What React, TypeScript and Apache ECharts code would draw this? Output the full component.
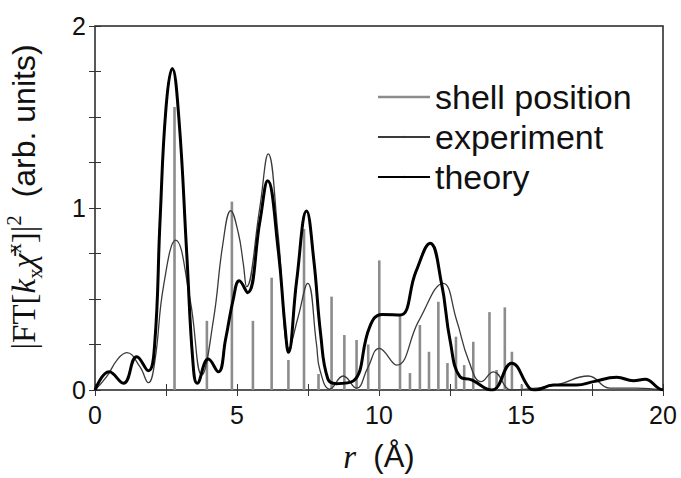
import React, { useEffect, useRef } from "react";
import * as echarts from "echarts";

// Shell positions (r in Å) and their heights
const shellR = [2.80, 3.94, 4.82, 5.56, 6.22, 6.81, 7.36, 7.87, 8.33, 8.78, 9.21, 9.62, 10.01, 10.74, 11.09, 11.44, 11.76, 12.09, 12.41, 12.71, 13.00, 13.32, 13.89, 14.14, 14.43, 14.68, 15.03];
const shellH = [1.555, 0.38, 1.035, 0.38, 0.617, 0.165, 0.885, 0.088, 0.513, 0.302, 0.275, 0.25, 0.712, 0.41, 0.093, 0.357, 0.21, 0.485, 0.148, 0.293, 0.137, 0.265, 0.428, 0.11, 0.454, 0.21, 0.03];

// Experiment curve
const expR = [0, 0.41, 0.8, 1.12, 1.58, 1.88, 2.1, 2.41, 2.84, 3.35, 3.76, 4.17, 4.5, 4.78, 5.05, 5.22, 5.34, 5.8, 6.1, 6.45, 6.84, 7.15, 7.49, 7.8, 7.92, 8.27, 8.74, 9.21, 9.6, 10.01, 10.62, 11.4, 12.26, 12.73, 13.15, 13.6, 14.03, 14.67, 15.5, 16.3, 17.37, 18.13, 19.07, 20];
const expV = [0, 0.073, 0.17, 0.205, 0.128, 0.04, 0.15, 0.568, 0.824, 0.495, 0.082, 0.385, 0.8, 0.985, 0.86, 0.696, 0.568, 1.0, 1.297, 0.85, 0.229, 0.4, 0.586, 0.25, 0.11, 0.005, 0.077, 0.01, 0.12, 0.229, 0.137, 0.38, 0.586, 0.385, 0.165, 0.046, 0.10, 0.0, 0.01, 0.03, 0.077, 0.01, 0.01, 0];

// Theory curve
const thR = [0, 0.5, 1.0, 1.47, 1.88, 2.1, 2.29, 2.5, 2.72, 2.95, 3.23, 3.45, 3.6, 3.99, 4.34, 4.6, 4.87, 5.08, 5.37, 5.81, 6.08, 6.45, 6.69, 6.81, 7.1, 7.45, 7.7, 7.95, 8.2, 8.5, 9.1, 9.68, 10.1, 10.74, 11.3, 11.8, 12.2, 12.5, 12.85, 13.26, 13.97, 14.67, 15.3, 15.49, 16.14, 16.96, 17.55, 18.37, 18.96, 19.37, 19.84, 20];
const thV = [0, 0.10, 0.037, 0.183, 0.106, 0.25, 0.93, 1.55, 1.767, 1.5, 0.75, 0.15, 0.037, 0.17, 0.10, 0.28, 0.5, 0.60, 0.535, 0.93, 1.15, 0.77, 0.35, 0.207, 0.6, 0.983, 0.72, 0.3, 0.06, 0.035, 0.05, 0.35, 0.415, 0.412, 0.65, 0.806, 0.587, 0.275, 0.073, 0.055, 0.0, 0.147, 0.01, 0.0, 0.027, 0.027, 0.046, 0.07, 0.051, 0.059, 0.01, 0];

const SANS = "'Liberation Sans', Arial, Helvetica, sans-serif";
const SERIF = "'Liberation Serif', 'DejaVu Serif', 'Times New Roman', serif";

export default function App() {
  const ref = useRef<HTMLDivElement>(null);
  useEffect(() => {
    if (!ref.current) return;
    const chart = echarts.init(ref.current, null, { renderer: "svg" });
    const shellData = shellR.map((r, i) => [r, shellH[i]]);
    const expData = expR.map((r, i) => [r, expV[i]]);
    const thData = thR.map((r, i) => [r, thV[i]]);
    const tickCommon = { inside: true, length: 6, lineStyle: { color: "#333", width: 1 } };
    chart.setOption({
      animation: false,
      backgroundColor: "#fff",
      grid: {
        left: 95, right: 18, top: 26, bottom: 88,
        outerBoundsMode: "none",
        containLabel: false,
        show: true, borderColor: "#222", borderWidth: 1.5, backgroundColor: "transparent",
      },
      legend: {
        orient: "vertical",
        left: 372,
        top: 75,
        itemWidth: 52,
        itemHeight: 2.5,
        itemGap: 6,
        textStyle: { fontSize: 34, color: "#111", fontFamily: SANS, lineHeight: 34 },
        data: [
          { name: "shell position", icon: "rect", itemStyle: { color: "#8c8c8c" } },
          { name: "experiment" },
          { name: "theory" },
        ],
      },
      xAxis: [
        {
          type: "value", min: 0, max: 20, interval: 5,
          axisLine: { show: false }, splitLine: { show: false },
          axisTick: tickCommon,
          minorTick: { show: true, splitNumber: 2, length: 6, lineStyle: { color: "#333", width: 1 } },
          axisLabel: { fontSize: 25, color: "#111", fontFamily: SANS, margin: 12 },
          name: "{i|r}{a|  (Å)}",
          nameLocation: "middle",
          nameGap: 50,
          nameTextStyle: {
            rich: {
              i: { fontFamily: SERIF, fontStyle: "italic", fontSize: 33, color: "#111" },
              a: { fontFamily: SANS, fontSize: 31, color: "#111" },
            },
          },
        },
        {
          type: "value", position: "top", min: 0, max: 20, interval: 5,
          axisLine: { show: false }, splitLine: { show: false },
          axisTick: tickCommon,
          minorTick: { show: true, splitNumber: 2, length: 6, lineStyle: { color: "#333", width: 1 } },
          axisLabel: { show: false },
        },
      ],
      yAxis: [
        {
          type: "value", min: 0, max: 2, interval: 1,
          axisLine: { show: false }, splitLine: { show: false },
          axisTick: tickCommon,
          minorTick: { show: true, splitNumber: 4, length: 6, lineStyle: { color: "#333", width: 1 } },
          axisLabel: { fontSize: 25, color: "#111", fontFamily: SANS, margin: 9 },
          name: "{s||FT[}{i|k}{sub|x}{i|χ̄}{sup|x}{s|]|}{sup|2}{a|  (arb. units)}",
          nameLocation: "middle",
          nameGap: 50,
          nameRotate: 90,
          nameTextStyle: {
            padding: [0, 0, 0, 22],
            rich: {
              s: { fontFamily: SERIF, fontSize: 33, lineHeight: 42, color: "#111" },
              i: { fontFamily: SERIF, fontStyle: "italic", fontSize: 33, lineHeight: 42, color: "#111" },
              sub: { fontFamily: SERIF, fontSize: 21, lineHeight: 20, verticalAlign: "bottom", color: "#111" },
              sup: { fontFamily: SERIF, fontSize: 21, lineHeight: 20, verticalAlign: "top", color: "#111" },
              a: { fontFamily: SANS, fontSize: 32, lineHeight: 42, color: "#111" },
            },
          },
        },
        {
          type: "value", position: "right", min: 0, max: 2, interval: 1,
          axisLine: { show: false }, splitLine: { show: false },
          axisTick: tickCommon,
          minorTick: { show: true, splitNumber: 4, length: 6, lineStyle: { color: "#333", width: 1 } },
          axisLabel: { show: false },
        },
      ],
      series: [
        {
          name: "shell position",
          type: "custom",
          xAxisIndex: 0,
          yAxisIndex: 0,
          itemStyle: { color: "#8c8c8c" },
          encode: { x: 0, y: 1 },
          data: shellData,
          z: 1,
          renderItem: (params: any, api: any) => {
            const x = api.value(0);
            const h = api.value(1);
            const p0 = api.coord([x, 0]);
            const p1 = api.coord([x, h]);
            return {
              type: "rect",
              shape: { x: p0[0] - 1.3, y: p1[1], width: 2.6, height: p0[1] - p1[1] },
              style: { fill: "#8c8c8c" },
            };
          },
        },
        {
          name: "experiment",
          type: "line",
          data: expData,
          smooth: 0.45,
          symbol: "none",
          color: "#3a3a3a",
          lineStyle: { width: 1.3, color: "#3a3a3a" },
          z: 3,
        },
        {
          name: "theory",
          type: "line",
          data: thData,
          smooth: 0.45,
          symbol: "none",
          color: "#000",
          lineStyle: { width: 3, color: "#000" },
          z: 4,
        },
      ],
    });
    return () => chart.dispose();
  }, []);
  return <div ref={ref} style={{ width: 681, height: 478, position: "absolute", left: 0, top: 0 }} />;
}
